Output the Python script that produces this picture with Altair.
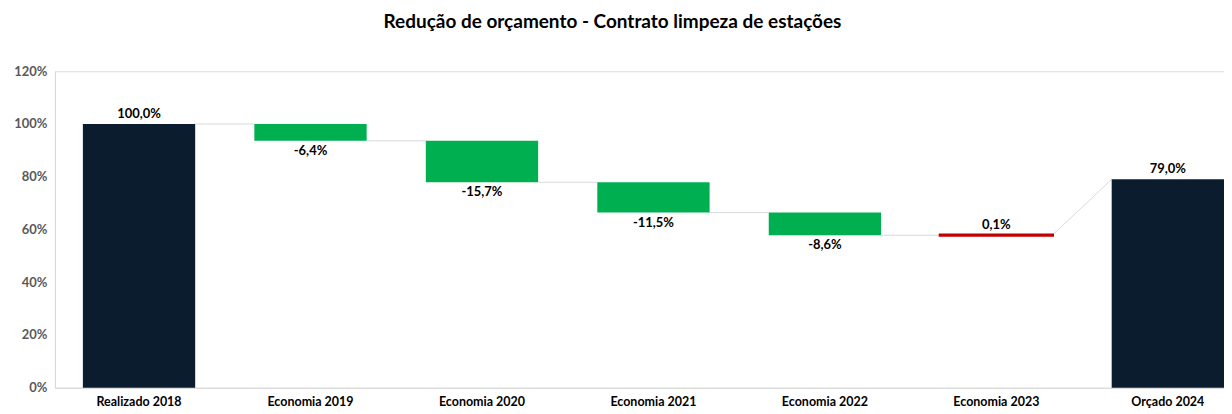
import altair as alt
import pandas as pd

categories = ["Realizado 2018", "Economia 2019", "Economia 2020", "Economia 2021",
              "Economia 2022", "Economia 2023", "Orçado 2024"]
values = [100.0, -6.4, -15.7, -11.5, -8.6, 0.1, 79.0]
kinds = ["total", "delta", "delta", "delta", "delta", "delta", "total"]
y_ticks = [0, 20, 40, 60, 80, 100, 120]

NAVY = "#0c1c2f"
GREEN = "#00b050"
RED = "#c00000"
GRAY = "#d9d9d9"
FONT = "Lato"

rows = []
running = 0.0
for c, v, k in zip(categories, values, kinds):
    if k == "total":
        start, end = 0.0, v
    else:
        start, end = running, running + v
    running = end
    if k == "total":
        color = NAVY
    elif v < 0:
        color = GREEN
    else:
        color = RED
    label = f"{v:.1f}".replace(".", ",") + "%"
    rows.append(dict(cat=c, start=start, end=end, color=color, label=label,
                     pos="below" if v < 0 else "above",
                     sw=3 if (k == "delta" and v >= 0) else 0))
df = pd.DataFrame(rows)

conn = []
for i in range(len(rows) - 1):
    lvl = rows[i]["end"]
    nxt = rows[i + 1]
    lvl2 = nxt["end"] if kinds[i + 1] == "total" else lvl
    conn.append(dict(cat=rows[i]["cat"], nxt=nxt["cat"], y1=lvl, y2=lvl2))
cdf = pd.DataFrame(conn)

xscale = alt.Scale(domain=categories, paddingInner=0.345, paddingOuter=0.0815, align=1)
yscale = alt.Scale(domain=[0, 120], nice=False, zero=True)

xaxis = alt.Axis(title=None, labelAngle=0, labelFont=FONT, labelFontSize=12.5,
                 labelFontWeight="bold", labelColor="#000000", ticks=False,
                 domainColor=GRAY, labelPadding=8)
yaxis = alt.Axis(title=None, values=y_ticks, labelExpr="datum.value + '%'",
                 labelFont=FONT, labelFontSize=13, labelFontWeight="bold",
                 labelColor="#595959", ticks=False, grid=False, domainColor=GRAY,
                 labelPadding=8, minExtent=40, maxExtent=40)

base = alt.Chart(df)

connectors = alt.Chart(cdf).mark_rule(color=GRAY, strokeWidth=1).encode(
    x=alt.X("cat:N", scale=xscale, axis=xaxis, sort=categories, bandPosition=1),
    x2=alt.X2("nxt", bandPosition=0),
    y=alt.Y("y1:Q", scale=yscale, axis=yaxis),
    y2="y2:Q",
)

bars = base.mark_bar().encode(
    x=alt.X("cat:N", scale=xscale, axis=xaxis, sort=categories),
    y=alt.Y("start:Q", scale=yscale, axis=yaxis),
    y2="end:Q",
    color=alt.Color("color:N", scale=None),
    stroke=alt.Stroke("color:N", scale=None),
    strokeWidth=alt.StrokeWidth("sw:Q", scale=None),
)

lab_above = base.transform_filter(alt.datum.pos == "above").mark_text(
    baseline="bottom", dy=-3, font=FONT, fontSize=13, fontWeight="bold", color="#000000"
).encode(
    x=alt.X("cat:N", scale=xscale, sort=categories),
    y=alt.Y("end:Q", scale=yscale),
    text="label:N",
)

lab_below = base.transform_filter(alt.datum.pos == "below").mark_text(
    baseline="top", dy=4, font=FONT, fontSize=13, fontWeight="bold", color="#000000"
).encode(
    x=alt.X("cat:N", scale=xscale, sort=categories),
    y=alt.Y("end:Q", scale=yscale),
    text="label:N",
)

chart = alt.layer(connectors, bars, lab_above, lab_below).properties(
    width=1171,
    height=317,
    padding={"left": 5, "top": 5, "right": 0, "bottom": 0},
    title=alt.TitleParams(
        "Redução de orçamento - Contrato limpeza de estações",
        font=FONT, fontSize=19, fontWeight="bold", color="#000000",
        anchor="middle", offset=43, dx=-27, dy=10,
    ),
).configure_view(stroke=None).configure(background="white")

chart.save("out.html", embed_options={"renderer": "svg", "actions": False})
